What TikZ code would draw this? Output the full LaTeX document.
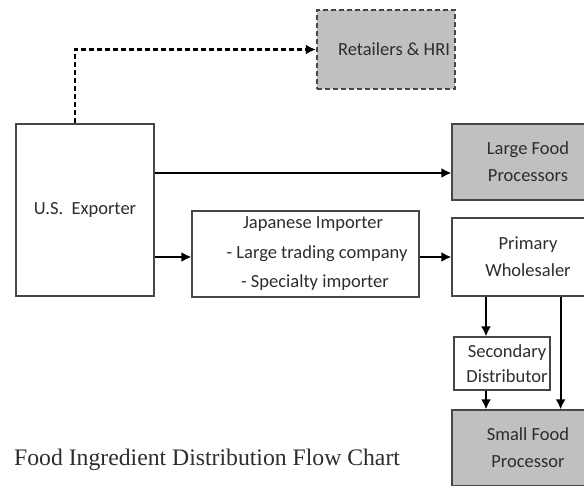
\documentclass[tikz,border=0pt]{standalone}
\usepackage{fontspec}
\setmainfont{Carlito}
\newfontfamily\titlefont{Liberation Serif}
\usetikzlibrary{arrows.meta}
\definecolor{boxgray}{RGB}{192,192,192}
\definecolor{edgegray}{RGB}{70,70,70}
\definecolor{txtgray}{RGB}{45,45,45}

\begin{document}
\begin{tikzpicture}[x=1pt,y=-1pt]
	\tikzset{>={Latex[length=10pt,width=10pt]}}
	\tikzset{
		box/.style={draw=edgegray,line width=1.2pt,inner sep=0pt,align=center,text=txtgray,font=\fontsize{18.5}{27}\selectfont},
		shaded/.style={box,fill=boxgray},
		flow/.style={->,line width=2pt},
		dashflow/.style={->,line width=2.4pt,dash pattern=on 5pt off 3pt}
	}
	\useasboundingbox (0,0) rectangle (584,486);
	\clip (0,0) rectangle (584,486);

  \node[box,minimum width=138,minimum height=172] (us) at (85,210) {U.S.\ \ Exporter};
  \node[shaded,dashflow,-,minimum width=138,minimum height=79] (ret) at (386,49.5) {\hspace*{16pt}Retailers \& HRI};
  \node[shaded,minimum width=152,minimum height=76] (lf) at (528,162) {Large Food\\Processors};
  \node[box,minimum width=227,minimum height=86,font=\fontsize{18.5}{29.5}\selectfont] (jp) at (305.5,254) {\hspace*{15pt}Japanese Importer\\\hspace*{23pt}- Large trading company\\\hspace*{19pt}- Specialty importer};
  \node[box,minimum width=152,minimum height=78] (pw) at (528,257) {Primary\\Wholesaler};
  \node[box,minimum width=96,minimum height=53,font=\fontsize{18.5}{25}\selectfont] (sd) at (502,363.5) {\hspace*{10pt}Secondary\\\hspace*{10pt}Distributor};
  \node[shaded,minimum width=152,minimum height=76] (sf) at (528,448) {Small Food\\Processor};

  \node[anchor=base west,inner sep=0pt,text=txtgray,font=\titlefont\fontsize{23.7}{26}\selectfont] (title) at (14,465) {Food Ingredient Distribution Flow Chart};

  \coordinate (lfin) at ([yshift=-11pt]lf.west);
  \coordinate (sdin) at ([xshift=-16pt]sd.north);
  \coordinate (sfin) at ([xshift=10pt]sd.east |- sf.north);

  \draw[dashflow] ([xshift=-10pt]us.north) |- (ret.west);
  \draw[flow] (us.east |- lfin) -- (lfin);
  \draw[flow] (us.east |- pw.west) -- (jp.west |- pw.west);
  \draw[flow] (jp.east |- pw.west) -- (pw.west);
  \draw[flow] (sdin |- pw.south) -- (sdin);
  \draw[flow] ([xshift=-16pt]sd.south) -- ([xshift=-16pt]sd.south |- sf.north);
  \draw[flow] (sfin |- pw.south) -- (sfin);

\end{tikzpicture}
\end{document}
